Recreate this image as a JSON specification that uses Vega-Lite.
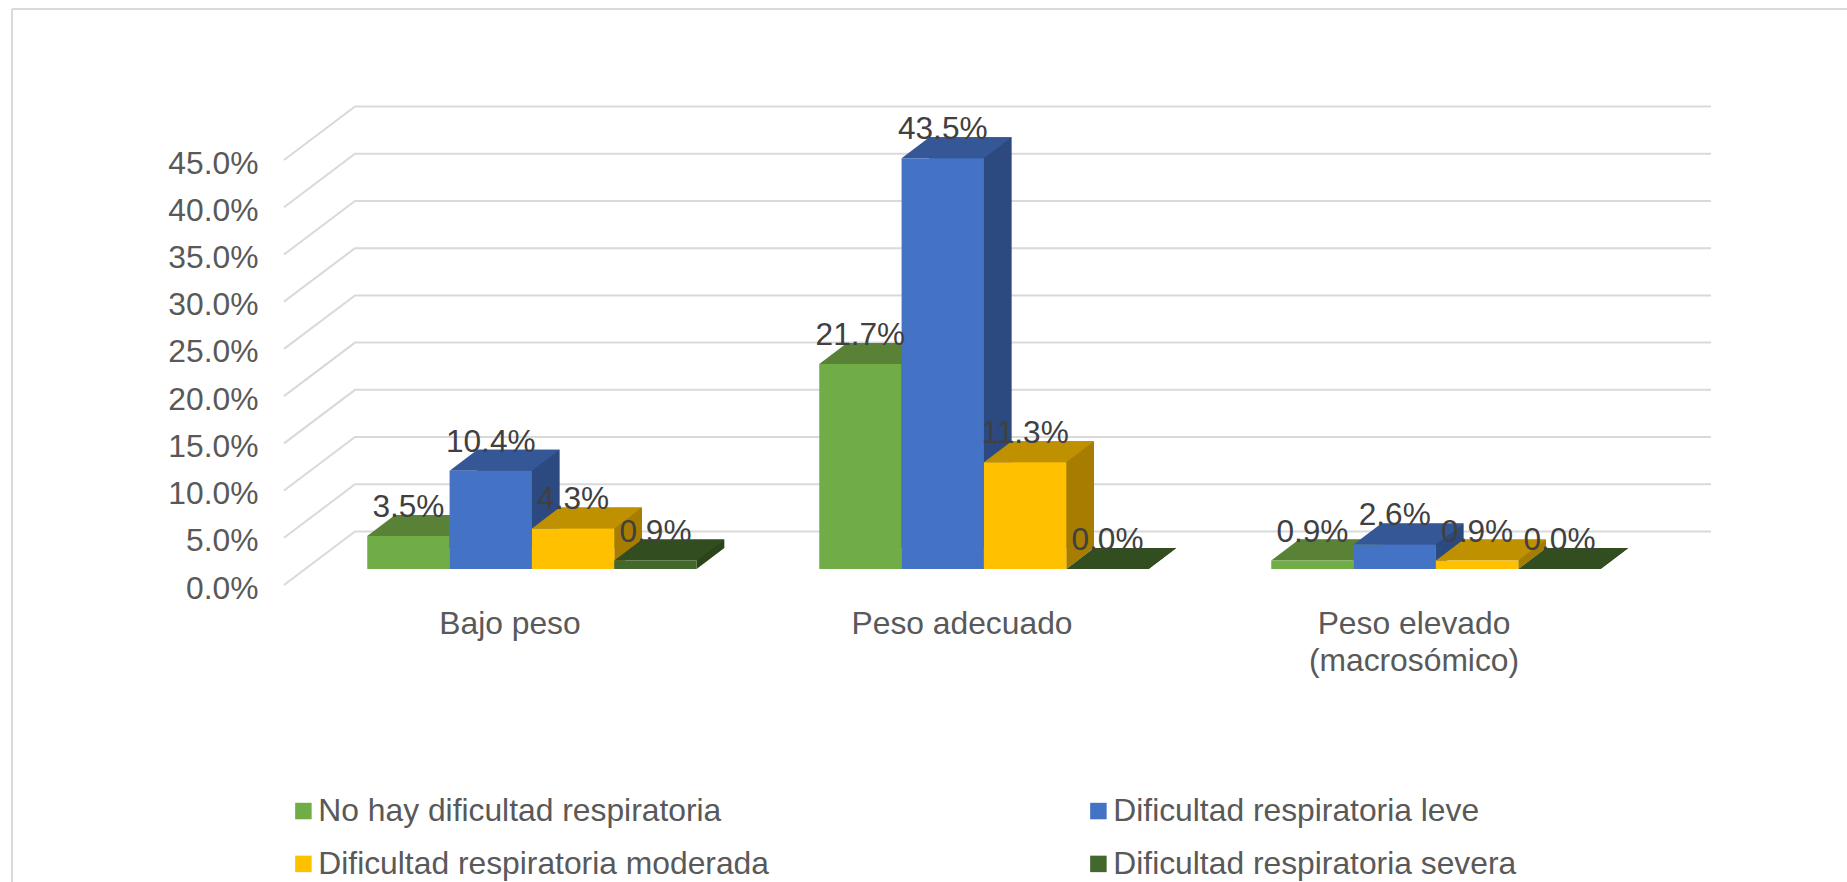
{
  "$schema": "https://vega.github.io/schema/vega-lite/v6.json",
  "width": 1835,
  "height": 873,
  "padding": {"left": 12, "top": 9, "right": 0, "bottom": 0},
  "autosize": "none",
  "background": "white",
  "config": {"view": {"stroke": null}, "font": "Liberation Sans"},
  "datasets": {
    "resultados": [
      {"peso": "Bajo peso", "dificultad": "No hay dificultad respiratoria", "porcentaje": 0.035},
      {"peso": "Bajo peso", "dificultad": "Dificultad respiratoria leve", "porcentaje": 0.104},
      {"peso": "Bajo peso", "dificultad": "Dificultad respiratoria moderada", "porcentaje": 0.043},
      {"peso": "Bajo peso", "dificultad": "Dificultad respiratoria severa", "porcentaje": 0.009},
      {"peso": "Peso adecuado", "dificultad": "No hay dificultad respiratoria", "porcentaje": 0.217},
      {"peso": "Peso adecuado", "dificultad": "Dificultad respiratoria leve", "porcentaje": 0.435},
      {"peso": "Peso adecuado", "dificultad": "Dificultad respiratoria moderada", "porcentaje": 0.113},
      {"peso": "Peso adecuado", "dificultad": "Dificultad respiratoria severa", "porcentaje": 0.0},
      {"peso": "Peso elevado (macrosómico)", "dificultad": "No hay dificultad respiratoria", "porcentaje": 0.009},
      {"peso": "Peso elevado (macrosómico)", "dificultad": "Dificultad respiratoria leve", "porcentaje": 0.026},
      {"peso": "Peso elevado (macrosómico)", "dificultad": "Dificultad respiratoria moderada", "porcentaje": 0.009},
      {"peso": "Peso elevado (macrosómico)", "dificultad": "Dificultad respiratoria severa", "porcentaje": 0.0}
    ],
    "marcas": [
      {"nivel": 0}, {"nivel": 0.05}, {"nivel": 0.1}, {"nivel": 0.15}, {"nivel": 0.2},
      {"nivel": 0.25}, {"nivel": 0.3}, {"nivel": 0.35}, {"nivel": 0.4}, {"nivel": 0.45}
    ]
  },
  "data": {"name": "resultados"},
  "encoding": {
    "x": {
      "field": "peso",
      "type": "nominal",
      "sort": null,
      "scale": {
        "domain": ["Bajo peso", "Peso adecuado", "Peso elevado (macrosómico)"],
        "range": [272, 1628],
        "paddingInner": 0.271,
        "paddingOuter": 0.1355
      },
      "axis": {
        "title": null,
        "domain": false,
        "ticks": false,
        "offset": -274,
        "labelPadding": 0,
        "labelAngle": 0,
        "labelFontSize": 31.8,
        "labelColor": "#595959",
        "labelLineHeight": 37,
        "labelLimit": 600,
        "labelExpr": "datum.value == 'Peso elevado (macrosómico)' ? ['Peso elevado', '(macrosómico)'] : datum.label"
      }
    },
    "xOffset": {
      "field": "dificultad",
      "type": "nominal",
      "scale": {
        "domain": [
          "No hay dificultad respiratoria",
          "Dificultad respiratoria leve",
          "Dificultad respiratoria moderada",
          "Dificultad respiratoria severa"
        ],
        "range": [22, 351.4]
      }
    },
    "y": {
      "field": "porcentaje",
      "type": "quantitative",
      "stack": null,
      "scale": {"domain": [0, 0.45], "range": [560, 135], "nice": false},
      "axis": {
        "format": ".1%",
        "values": [0, 0.05, 0.1, 0.15, 0.2, 0.25, 0.3, 0.35, 0.4, 0.45],
        "title": null,
        "domain": false,
        "ticks": false,
        "grid": false,
        "offset": -246,
        "labelPadding": 0,
        "labelFontSize": 31.8,
        "labelColor": "#595959",
        "labelOffset": 19
      }
    }
  },
  "layer": [
    {
      "description": "Wall and floor gridlines, one polyline per axis level",
      "data": {"name": "marcas"},
      "mark": {
        "type": "point",
        "shape": "M-226,16L-155,-37.5L1201,-37.5",
        "size": 4,
        "filled": false,
        "stroke": "#d9d9d9",
        "strokeWidth": 2,
        "opacity": 1
      },
      "encoding": {
        "x": {"datum": "Bajo peso"},
        "xOffset": null,
        "y": {"field": "nivel", "type": "quantitative"}
      }
    },
    {
      "description": "Back of each bar, showing as the right-hand face",
      "mark": {"type": "bar", "yOffset": -21, "y2Offset": -21},
      "encoding": {
        "xOffset": {
          "field": "dificultad",
          "type": "nominal",
          "scale": {
            "domain": ["No hay dificultad respiratoria", "Dificultad respiratoria leve", "Dificultad respiratoria moderada", "Dificultad respiratoria severa"],
            "range": [49.7, 379.1]
          }
        },
        "y2": {"datum": 0},
        "color": {
          "field": "dificultad",
          "type": "nominal",
          "legend": null,
          "scale": {
            "domain": ["No hay dificultad respiratoria", "Dificultad respiratoria leve", "Dificultad respiratoria moderada", "Dificultad respiratoria severa"],
            "range": ["#49702e", "#2c4a7f", "#a67d00", "#2c441c"]
          }
        }
      }
    },
    {
      "description": "Lower corner of the right-hand face",
      "mark": {"type": "point", "shape": "M41.15,0L41.15,-21L68.85,-21Z", "size": 4, "filled": true, "opacity": 1, "strokeWidth": 0},
      "encoding": {
        "y": {"datum": 0},
        "color": {
          "field": "dificultad",
          "type": "nominal",
          "legend": null,
          "scale": {
            "domain": ["No hay dificultad respiratoria", "Dificultad respiratoria leve", "Dificultad respiratoria moderada", "Dificultad respiratoria severa"],
            "range": ["#49702e", "#2c4a7f", "#a67d00", "#2c441c"]
          }
        }
      }
    },
    {
      "description": "Top face of each bar",
      "mark": {"type": "point", "shape": "M-41.15,0L-13.45,-21L68.85,-21L41.15,0Z", "size": 4, "filled": true, "opacity": 1, "strokeWidth": 0},
      "encoding": {
        "color": {
          "field": "dificultad",
          "type": "nominal",
          "legend": null,
          "scale": {
            "domain": ["No hay dificultad respiratoria", "Dificultad respiratoria leve", "Dificultad respiratoria moderada", "Dificultad respiratoria severa"],
            "range": ["#5a8236", "#355796", "#bf9000", "#324e20"]
          }
        }
      }
    },
    {
      "description": "Front face of each bar, carrying the legend",
      "mark": {"type": "bar"},
      "encoding": {
        "color": {
          "field": "dificultad",
          "type": "nominal",
          "scale": {
            "domain": ["No hay dificultad respiratoria", "Dificultad respiratoria leve", "Dificultad respiratoria moderada", "Dificultad respiratoria severa"],
            "range": ["#70ad47", "#4472c4", "#ffc000", "#43682b"]
          },
          "legend": {
            "orient": "none",
            "legendX": 275.5,
            "legendY": 786,
            "direction": "horizontal",
            "columns": 2,
            "title": null,
            "padding": 0,
            "symbolType": "square",
            "symbolSize": 272,
            "symbolStrokeWidth": 0,
            "labelFontSize": 31.8,
            "labelColor": "#595959",
            "labelLimit": 600,
            "labelOffset": -1,
            "rowPadding": 20,
            "columnPadding": 313,
            "gridAlign": "each"
          }
        }
      }
    },
    {
      "description": "Percentage label over each bar",
      "mark": {"type": "text", "fontSize": 31.6, "fill": "#404040", "baseline": "middle", "align": "center", "yOffset": -28},
      "encoding": {
        "text": {"field": "porcentaje", "type": "quantitative", "format": ".1%"}
      }
    },
    {
      "description": "Chart frame: top and left edges only",
      "mark": {"type": "rule", "stroke": "#d9d9d9", "strokeWidth": 2},
      "encoding": {"x": null, "xOffset": null, "y": {"value": 0}}
    },
    {
      "mark": {"type": "rule", "stroke": "#d9d9d9", "strokeWidth": 2},
      "encoding": {"x": {"value": 0}, "xOffset": null, "y": null}
    }
  ],
  "resolve": {"scale": {"color": "independent", "xOffset": "independent"}}
}
